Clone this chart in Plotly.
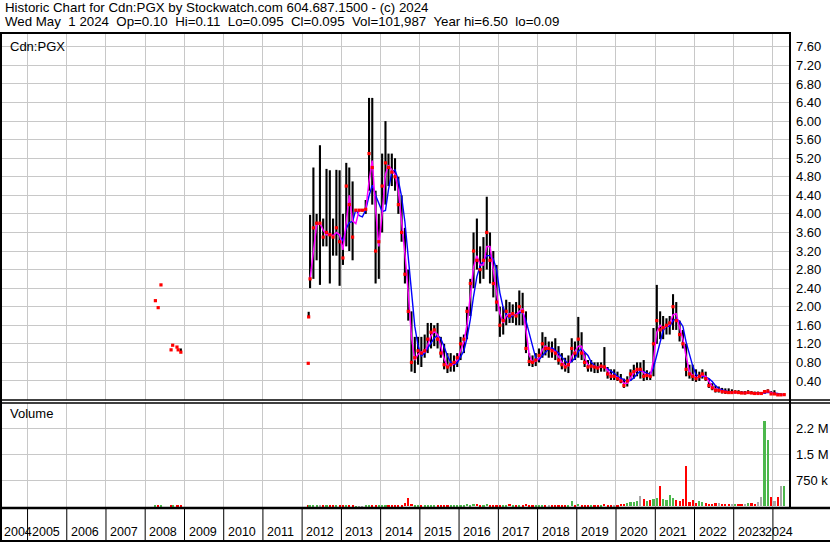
import pandas as pd
import plotly.graph_objects as go

# ---------------- data (monthly, Mar 2012 .. Apr 2024) ----------------
high_2012 = [3.98, 5.00, 4.00, 5.48, 3.90, 4.97, 4.94, 3.90, 4.95, 4.94]
low_2012 = [2.40, 2.60, 3.00, 2.47, 3.30, 3.30, 2.50, 3.10, 3.10, 2.45]
close_2012 = [2.60, 3.70, 3.80, 3.80, 3.50, 3.60, 3.55, 3.50, 3.70, 3.40]

high_2013 = [4.00, 5.10, 5.00, 4.70, 4.10, 4.10, 4.10, 4.30, 6.50, 6.50, 4.50, 4.00]
low_2013 = [2.90, 3.30, 3.20, 3.00, 4.05, 4.05, 4.05, 4.00, 4.50, 4.20, 2.50, 2.60]
close_2013 = [3.05, 4.60, 4.20, 3.50, 4.08, 4.08, 4.08, 4.10, 5.30, 5.00, 3.20, 3.40]

high_2014 = [5.30, 6.00, 5.30, 5.30, 5.20, 4.80, 4.40, 3.70, 2.80, 1.90, 1.35, 1.35]
low_2014 = [3.60, 4.20, 4.60, 4.60, 4.50, 4.00, 3.40, 2.50, 1.70, 0.60, 0.57, 0.75]
close_2014 = [4.60, 5.10, 5.00, 4.90, 4.80, 4.20, 3.60, 2.70, 1.90, 0.80, 0.90, 1.05]

high_2015 = [1.35, 1.40, 1.65, 1.65, 1.60, 1.65, 1.35, 1.20, 1.00, 1.00, 0.95, 1.00]
low_2015 = [0.70, 0.90, 1.00, 1.10, 1.15, 1.10, 0.90, 0.65, 0.57, 0.60, 0.60, 0.70]
close_2015 = [1.00, 1.05, 1.30, 1.45, 1.50, 1.30, 1.00, 0.75, 0.70, 0.75, 0.80, 0.90]

high_2016 = [1.35, 1.40, 2.00, 2.60, 3.60, 3.90, 3.30, 3.50, 4.37, 3.60, 3.20, 2.90]
low_2016 = [0.85, 1.00, 1.30, 1.80, 2.40, 2.80, 2.50, 2.60, 2.80, 2.50, 2.20, 1.90]
close_2016 = [1.20, 1.30, 1.90, 2.50, 3.20, 3.00, 2.80, 3.00, 3.60, 3.00, 2.50, 2.10]

high_2017 = [2.00, 2.00, 2.15, 2.10, 2.05, 2.10, 2.35, 2.30, 1.90, 1.00, 0.95, 1.00]
low_2017 = [1.35, 1.40, 1.60, 1.65, 1.65, 1.60, 1.60, 1.60, 1.00, 0.72, 0.70, 0.72]
close_2017 = [1.60, 1.70, 1.90, 1.80, 1.85, 1.80, 2.00, 1.90, 1.10, 0.82, 0.80, 0.85]

high_2018 = [1.10, 1.45, 1.35, 1.25, 1.25, 1.32, 1.15, 1.00, 0.90, 0.95, 1.32, 1.25]
low_2018 = [0.80, 0.90, 0.95, 0.90, 0.90, 0.85, 0.75, 0.65, 0.60, 0.57, 0.80, 0.85]
close_2018 = [0.95, 1.20, 1.10, 1.10, 1.05, 1.00, 0.85, 0.75, 0.70, 0.75, 1.10, 1.00]

high_2019 = [1.78, 1.45, 1.00, 0.85, 0.85, 0.80, 0.80, 0.80, 1.13, 0.70, 0.65, 0.65]
low_2019 = [0.90, 0.85, 0.70, 0.60, 0.60, 0.57, 0.57, 0.60, 0.60, 0.45, 0.42, 0.42]
close_2019 = [1.30, 1.00, 0.80, 0.70, 0.72, 0.70, 0.68, 0.72, 0.70, 0.55, 0.50, 0.50]

high_2020 = [0.60, 0.55, 0.45, 0.50, 0.65, 0.75, 0.80, 0.80, 0.85, 0.63, 0.60, 1.54]
low_2020 = [0.40, 0.35, 0.25, 0.28, 0.40, 0.45, 0.50, 0.45, 0.40, 0.42, 0.42, 0.50]
close_2020 = [0.45, 0.40, 0.30, 0.40, 0.55, 0.60, 0.65, 0.65, 0.50, 0.52, 0.50, 1.20]

high_2021 = [2.47, 1.90, 1.80, 1.75, 1.80, 2.27, 2.10, 1.70, 1.50, 1.20, 0.75, 0.75]
low_2021 = [1.20, 1.30, 1.30, 1.40, 1.40, 1.50, 1.50, 1.25, 1.10, 0.50, 0.45, 0.40]
close_2021 = [1.70, 1.50, 1.55, 1.60, 1.65, 2.00, 1.70, 1.40, 1.20, 0.65, 0.55, 0.50]

high_2022 = [0.65, 0.60, 0.65, 0.60, 0.45, 0.35, 0.30, 0.28, 0.25, 0.24, 0.24, 0.22]
low_2022 = [0.38, 0.40, 0.45, 0.40, 0.25, 0.20, 0.15, 0.15, 0.13, 0.12, 0.12, 0.12]
close_2022 = [0.45, 0.50, 0.55, 0.45, 0.30, 0.25, 0.20, 0.20, 0.17, 0.16, 0.15, 0.15]

high_2023 = [0.20, 0.20, 0.18, 0.18, 0.20, 0.18, 0.17, 0.17, 0.16, 0.20, 0.22, 0.18]
low_2023 = [0.13, 0.12, 0.12, 0.11, 0.12, 0.12, 0.11, 0.11, 0.10, 0.12, 0.14, 0.10]
close_2023 = [0.16, 0.15, 0.14, 0.14, 0.15, 0.14, 0.13, 0.13, 0.13, 0.17, 0.18, 0.12]

high_2024 = [0.20, 0.14, 0.13, 0.12]
low_2024 = [0.10, 0.09, 0.09, 0.09]
close_2024 = [0.12, 0.10, 0.10, 0.105]

# monthly volume (thousands of shares)
vol_2012 = [25, 30, 20, 25, 15, 20, 25, 20, 20, 15]
vol_2013 = [15, 20, 20, 10, 5, 5, 5, 30, 25, 20, 30, 25]
vol_2014 = [30, 40, 30, 25, 30, 30, 40, 90, 240, 60, 40, 30]
vol_2015 = [30, 35, 40, 30, 25, 30, 25, 30, 35, 25, 30, 25]
vol_2016 = [30, 40, 60, 50, 70, 60, 40, 50, 70, 40, 35, 30]
vol_2017 = [40, 30, 35, 60, 30, 35, 30, 40, 60, 35, 30, 30]
vol_2018 = [40, 35, 30, 40, 30, 40, 40, 50, 40, 35, 150, 40]
vol_2019 = [60, 40, 30, 30, 25, 40, 30, 35, 60, 40, 30, 40]
vol_2020 = [50, 60, 80, 100, 120, 110, 150, 300, 200, 150, 180, 200]
vol_2021 = [250, 585, 200, 180, 330, 250, 170, 150, 200, 1170, 120, 190]
vol_2022 = [100, 150, 120, 100, 80, 70, 100, 90, 80, 70, 60, 60]
vol_2023 = [80, 70, 60, 80, 90, 100, 80, 120, 270, 2470, 1910, 280]
vol_2024 = [150, 280, 585, 585]

# isolated early trades
early_dates = ["2008-04-05", "2008-05-01", "2008-05-27", "2008-08-29", "2008-09-13",
               "2008-10-23", "2008-11-03", "2008-11-28", "2012-02-27", "2012-03-02"]
early_high = [2.13, 1.98, 2.47, 1.07, 1.17, 1.13, 1.07, 1.10, 0.78, 1.89]
early_low = [2.13, 1.98, 2.47, 1.07, 1.17, 1.13, 1.07, 1.02, 0.78, 1.78]
early_close = [2.13, 1.98, 2.47, 1.07, 1.17, 1.13, 1.07, 1.02, 0.78, 1.78]
early_vol = [20, 15, 20, 15, 20, 15, 20, 15, 10, 10]

price_ticks = [0.40, 0.80, 1.20, 1.60, 2.00, 2.40, 2.80, 3.20, 3.60, 4.00,
               4.40, 4.80, 5.20, 5.60, 6.00, 6.40, 6.80, 7.20, 7.60]
vol_ticks = [750000, 1500000, 2250000]
vol_tick_text = ["750 k", "1.5 M", "2.2 M"]
year_labels = [str(y) for y in range(2004, 2025)]

header1 = "Historic Chart for Cdn:PGX by Stockwatch.com 604.687.1500 - (c) 2024"
header2 = ("Wed May  1 2024  Op=0.10  Hi=0.11  Lo=0.095  Cl=0.095  Vol=101,987  "
           "Year hi=6.50  lo=0.09")

# ---------------- assemble ----------------
high = (high_2012 + high_2013 + high_2014 + high_2015 + high_2016 + high_2017 + high_2018
        + high_2019 + high_2020 + high_2021 + high_2022 + high_2023 + high_2024)
low = (low_2012 + low_2013 + low_2014 + low_2015 + low_2016 + low_2017 + low_2018
       + low_2019 + low_2020 + low_2021 + low_2022 + low_2023 + low_2024)
close = (close_2012 + close_2013 + close_2014 + close_2015 + close_2016 + close_2017
         + close_2018 + close_2019 + close_2020 + close_2021 + close_2022 + close_2023
         + close_2024)
vol = [v * 1000 for v in (vol_2012 + vol_2013 + vol_2014 + vol_2015 + vol_2016 + vol_2017
                          + vol_2018 + vol_2019 + vol_2020 + vol_2021 + vol_2022 + vol_2023
                          + vol_2024)]
months = list(pd.date_range("2012-03-01", periods=len(close), freq="MS") + pd.Timedelta(days=14))

cs = pd.Series(close)
ma_short = cs.rolling(2, min_periods=1).mean()
ma_long = cs.rolling(4, min_periods=4).mean()
ma_long[pd.Series(months) < pd.Timestamp("2012-11-01")] = None

all_dates = [pd.Timestamp(d) for d in early_dates] + months
all_high = early_high + high
all_low = early_low + low
all_close = early_close + close
all_vol = [v * 1000 for v in early_vol] + vol

seg_x, seg_y = [], []
for d, h, l in zip(all_dates, all_high, all_low):
    seg_x += [d, d, None]
    seg_y += [l, h, None]

GREEN, RED, GREY = "#4cb84c", "#ff0000", "#a8a8a8"
vcol = []
prev = None
for c in all_close:
    if prev is None:
        vcol.append(GREEN)
    elif c == prev:
        vcol.append(GREY)
    elif c > prev:
        vcol.append(GREEN)
    else:
        vcol.append(RED)
    prev = c

# ---------------- geometry helpers (pixels -> paper) ----------------
W, H = 830, 543
L, R, T, B = 2, 790, 34, 509
def px(x):
    return (x - L) / (R - L)
def py(y):
    return (B - y) / (B - T)

FONT = "Liberation Sans, Arial, sans-serif"
GRID = "#c8c8c8"

fig = go.Figure()
fig.add_trace(go.Scatter(x=seg_x, y=seg_y, mode="lines", line=dict(color="black", width=2.1),
                         xaxis="x", yaxis="y", hoverinfo="skip"))
fig.add_trace(go.Scatter(x=months, y=ma_long, mode="lines", line=dict(color="#0000ff", width=1.4),
                         xaxis="x", yaxis="y", connectgaps=False))
fig.add_trace(go.Scatter(x=months, y=ma_short, mode="lines", line=dict(color="#ff00ff", width=1.5),
                         xaxis="x", yaxis="y"))
fig.add_trace(go.Scatter(x=all_dates, y=all_close, mode="markers",
                         marker=dict(color="#ff0000", size=3.2, symbol="square", line=dict(width=0)),
                         xaxis="x", yaxis="y"))
fig.add_trace(go.Bar(x=all_dates, y=all_vol, marker=dict(color=vcol, line=dict(width=0)),
                     width=20 * 86400000, xaxis="x2", yaxis="y2"))

xr = ["2004-05-08", "2024-06-08"]
fig.update_layout(
    width=W, height=H, showlegend=False,
    margin=dict(l=L, r=W - R, t=T, b=H - B, pad=0),
    paper_bgcolor="white", plot_bgcolor="white",
    font=dict(family=FONT, size=13, color="black"),
    bargap=0,
    xaxis=dict(type="date", range=xr, domain=[0, 1], anchor="y", showticklabels=False,
               ticks="", showgrid=True, gridcolor=GRID, gridwidth=1, dtick="M12",
               tick0="2004-01-01", zeroline=False, showline=False),
    xaxis2=dict(type="date", range=xr, domain=[0, 1], anchor="y2", matches="x",
                showticklabels=False, ticks="", showgrid=True, gridcolor=GRID, gridwidth=1,
                dtick="M12", tick0="2004-01-01", zeroline=False, showline=False),
    yaxis=dict(domain=[py(400), 1], range=[(399.5 - 400) / 46.4, (399.5 - 34) / 46.4],
               side="right", tickvals=price_ticks, ticktext=[f"{v:.2f}" for v in price_ticks],
               showgrid=True, gridcolor=GRID, gridwidth=1, zeroline=False, ticks="",
               ticklabelstandoff=5, tickfont=dict(size=13, family=FONT), showline=False),
    yaxis2=dict(domain=[0, py(403)], range=[-(509 - 506.3) / 34.67 * 1e6, (506.3 - 403) / 34.67 * 1e6],
                side="right", tickvals=vol_ticks, ticktext=vol_tick_text,
                showgrid=True, gridcolor=GRID, gridwidth=1, zeroline=False, ticks="",
                ticklabelstandoff=5, tickfont=dict(size=13, family=FONT), showline=False),
)

shapes = []
def hline(y, x0, x1, w=1):
    shapes.append(dict(type="line", xref="paper", yref="paper", x0=px(x0), x1=px(x1),
                       y0=py(y), y1=py(y), line=dict(color="black", width=w)))
def vline(x, y0, y1, w=1):
    shapes.append(dict(type="line", xref="paper", yref="paper", x0=px(x), x1=px(x),
                       y0=py(y0), y1=py(y1), line=dict(color="black", width=w)))

hline(33, 0, 791, 2)
vline(1, 33, 541, 2)
vline(790, 33, 509, 2)
hline(400, 0, 830, 1.5)
hline(403, 0, 830, 1.5)
hline(508, 0, 830, 2.5)
hline(541, 0, 830, 2)

# year separators in the label row
for y in range(2005, 2025):
    shapes.append(dict(type="line", xref="x", yref="paper", x0=f"{y}-01-01", x1=f"{y}-01-01",
                       y0=py(509), y1=py(541), line=dict(color="black", width=1)))

annotations = [
    dict(text=header1, x=px(3), y=py(8), xref="paper", yref="paper", xanchor="left",
         yanchor="middle", showarrow=False, font=dict(size=13.3, family=FONT)),
    dict(text=header2.replace("  ", "&nbsp; "), x=px(3), y=py(22), xref="paper", yref="paper",
         xanchor="left", yanchor="middle", showarrow=False, font=dict(size=13.3, family=FONT)),
    dict(text="Cdn:PGX", x=px(8), y=py(46), xref="paper", yref="paper", xanchor="left",
         yanchor="middle", showarrow=False, font=dict(size=13, family=FONT)),
    dict(text="Volume", x=px(8), y=py(413), xref="paper", yref="paper", xanchor="left",
         yanchor="middle", showarrow=False, font=dict(size=13, family=FONT)),
]
for i, lab in enumerate(year_labels):
    yr = 2004 + i
    if yr == 2004:
        ann = dict(x=px(1.5), xref="paper", xanchor="left", xshift=0)
    elif yr == 2024:
        ann = dict(x=px(795), xref="paper", xanchor="right", xshift=0)
    else:
        ann = dict(x=f"{yr}-01-01", xref="x", xanchor="left", xshift=2)
    ann.update(text=lab, y=py(532), yref="paper", yanchor="middle", showarrow=False,
               font=dict(size=12.5, family=FONT))
    annotations.append(ann)

fig.update_layout(shapes=shapes, annotations=annotations)
fig.write_html("out.html", config={"displayModeBar": False},
               post_script="document.body.style.margin='0px';")
